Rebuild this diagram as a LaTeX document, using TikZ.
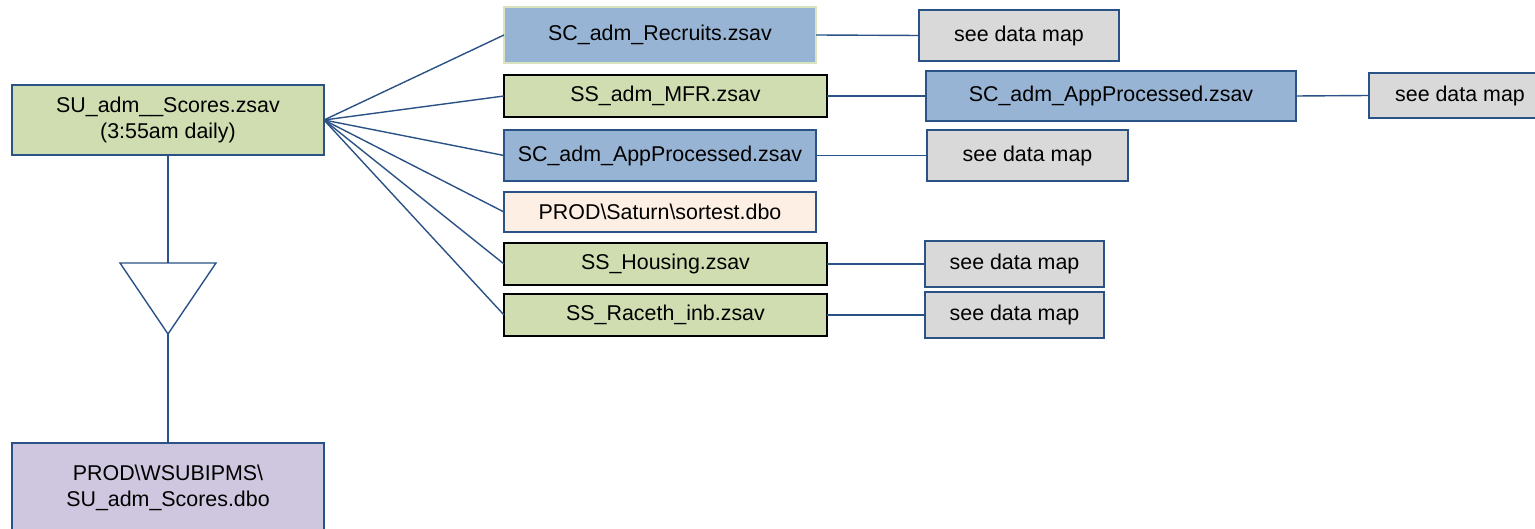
\documentclass[tikz,border=0pt]{standalone}
\usepackage{fontspec}
\setmainfont{Liberation Sans}
\definecolor{lnblue}{HTML}{2A5286}
\definecolor{gfill}{HTML}{CFDDB0}
\definecolor{bfill}{HTML}{98B4D4}
\definecolor{pfill}{HTML}{FDEFE3}
\definecolor{grfill}{HTML}{D9D9D9}
\definecolor{vfill}{HTML}{CFC7DF}
\definecolor{lgborder}{HTML}{D7E4BD}
\begin{document}
\begin{tikzpicture}[x=1pt,y=-1pt,
  box/.style={rectangle, draw=lnblue, line width=1.4pt, inner sep=0pt, outer sep=0pt,
    align=center, font=\fontsize{21.4}{26}\selectfont},
  gbox/.style={box, fill=gfill, draw=black, line width=1.6pt},
  bbox/.style={box, fill=bfill},
  dmap/.style={box, fill=grfill},
  conn/.style={draw=lnblue, line width=1.4pt}]
\useasboundingbox (0,0) rectangle (1535,529);
\clip (0,0) rectangle (1535,529);
% left column
\node[box, fill=gfill, minimum width=312pt, minimum height=70pt] (main) at (168,120)
  {SU\_adm\_\_Scores.zsav\\(3:55am daily)};
\node[box, fill=vfill, minimum width=312pt, minimum height=90pt] (dbo) at (168,488)
  {PROD\textbackslash WSUBIPMS\textbackslash\\SU\_adm\_Scores.dbo};
\coordinate (tritop) at (168,263);
\coordinate (triapex) at (168,334);
\draw[conn, line join=miter] (120,263) -- (216,263) -- (triapex) -- cycle;
\draw[conn] (main.south) -- (tritop);
\draw[conn] (triapex) -- (dbo.north);
% middle column
\node[bbox, draw=lgborder, minimum width=312pt, minimum height=56pt] (rec) at (660,35) {SC\_adm\_Recruits.zsav};
\node[gbox, minimum width=323pt, minimum height=42pt] (mfr) at (665.5,96) {SS\_adm\_MFR.zsav};
\node[bbox, minimum width=312pt, minimum height=51pt] (app) at (660,155.5) {SC\_adm\_AppProcessed.zsav};
\node[box, fill=pfill, minimum width=312pt, minimum height=40pt] (prod) at (660,212) {PROD\textbackslash Saturn\textbackslash sortest.dbo};
\node[gbox, minimum width=323pt, minimum height=42pt] (hous) at (665.5,264) {SS\_Housing.zsav};
\node[gbox, minimum width=323pt, minimum height=42pt] (race) at (665.5,315) {SS\_Raceth\_inb.zsav};
% right column
\node[dmap, minimum width=200pt, minimum height=51pt] (sdm1) at (1019,35.5) {see data map};
\node[bbox, minimum width=370pt, minimum height=50pt] (app2) at (1111,96) {SC\_adm\_AppProcessed.zsav};
\node[dmap, minimum width=182pt, minimum height=45pt] (sdm2) at (1460,95.5) {see data map};
\node[dmap, minimum width=201pt, minimum height=51pt] (sdm3) at (1027.5,155.5) {see data map};
\node[dmap, minimum width=179pt, minimum height=46pt] (sdm4) at (1014.5,264) {see data map};
\node[dmap, minimum width=179pt, minimum height=46pt] (sdm5) at (1014.5,315) {see data map};
% fan connectors
\foreach \t in {rec,mfr,app,prod,hous,race}{
  \draw[conn] (main.east) -- (\t.west);
}
\draw[conn] (rec.east) -- (sdm1.west);
\draw[conn] (mfr.east) -- (app2.west);
\draw[conn] (app2.east) -- (sdm2.west);
\draw[conn] (app.east) -- (sdm3.west);
\draw[conn] (hous.east) -- (sdm4.west);
\draw[conn] (race.east) -- (sdm5.west);
\end{tikzpicture}
\end{document}
